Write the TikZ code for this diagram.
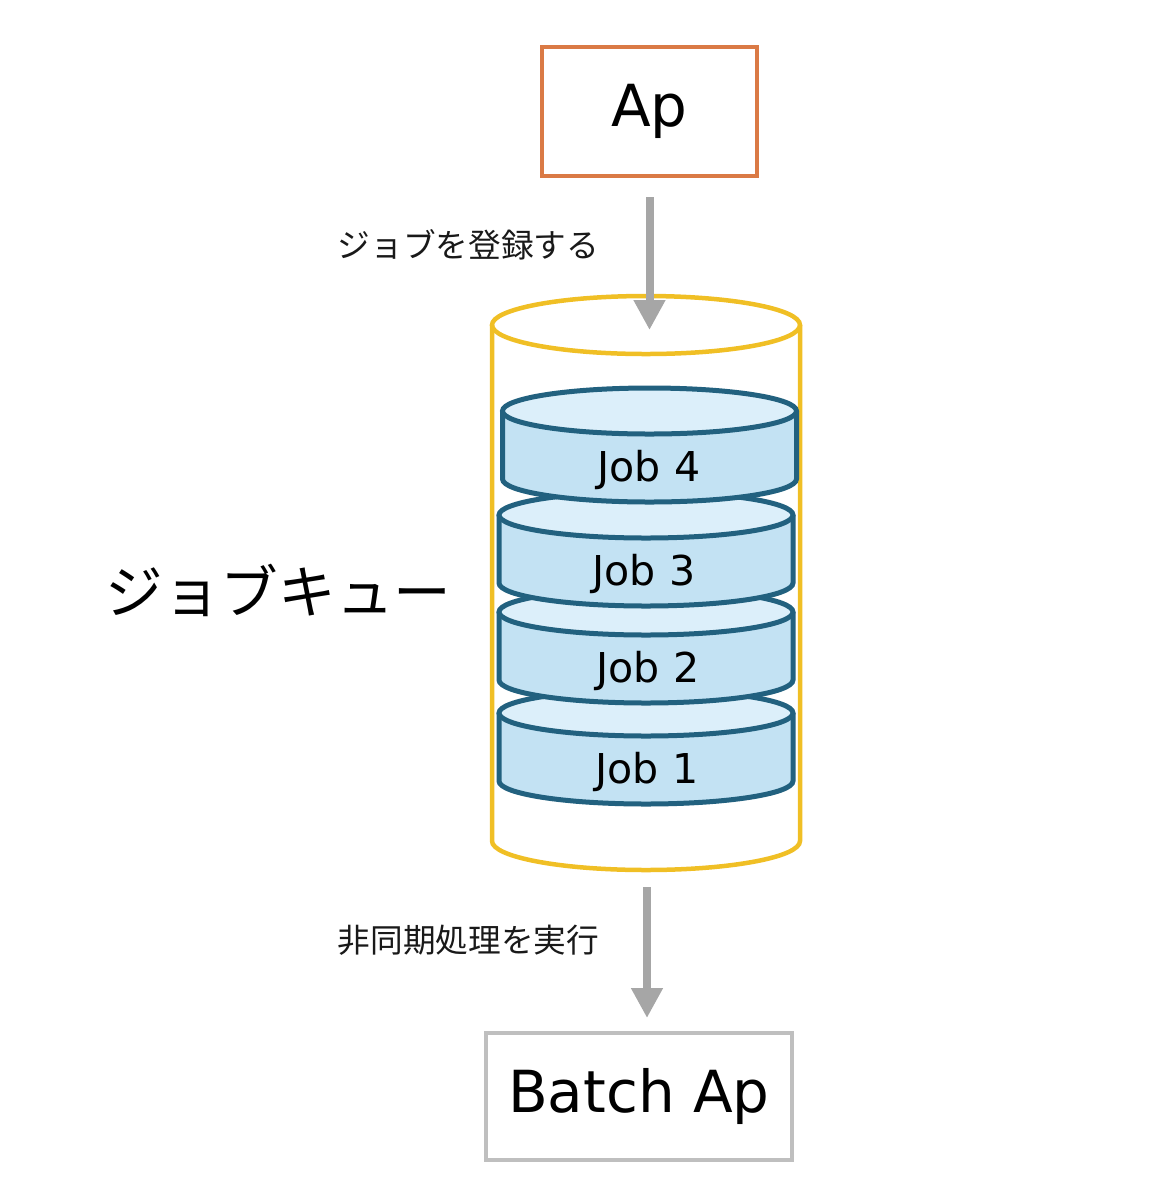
\documentclass[tikz,border=0pt]{standalone}
\usepackage{fontspec}
\setmainfont{DejaVu Sans}
\newfontfamily\jfont{Noto Sans CJK JP}
\usetikzlibrary{arrows.meta}
\definecolor{apcol}{HTML}{DA7A45}
\definecolor{queuecol}{HTML}{F0BF25}
\definecolor{jobline}{HTML}{22617F}
\definecolor{jobtop}{HTML}{DCEFFA}
\definecolor{jobside}{HTML}{C3E2F3}
\definecolor{flechecol}{HTML}{A6A6A6}
\definecolor{batchcol}{HTML}{BFBFBF}
\begin{document}
\begin{tikzpicture}
  \tikzstyle{boite}=[draw, line width=0.04cm, inner sep=0pt,
  font=\fontsize{16.5}{20}\selectfont]
  \tikzstyle{fleche}=[-{Triangle[width=0.3cm,length=0.3cm]}, draw=flechecol,
  fill=flechecol, line width=0.08cm]
  \tikzstyle{etiquette}=[anchor=east, inner sep=0pt, text=black!90,
  font=\jfont\fontsize{9.3}{11}\selectfont]
  \tikzstyle{cuve}=[draw=queuecol, line width=0.045cm]
  \tikzstyle{disque}=[draw=jobline, line width=0.05cm]
  \useasboundingbox (0,0) rectangle (11.67,-12);
  \node[boite, draw=apcol, minimum width=2.15cm, minimum height=1.29cm] (ap) at (6.495,-1.115) {Ap};
  \node[boite, draw=batchcol, minimum width=3.06cm, minimum height=1.27cm] (batch) at (6.39,-10.965) {Batch Ap};
  \draw[cuve] (4.92,-3.25) -- (4.92,-8.41) arc (180:360:1.54 and 0.29) -- (8.00,-3.25);
  \draw[cuve] (6.46,-3.25) ellipse (1.54 and 0.29);
  \foreach \n/\x/\y/\t in {1/6.46/7.13/6.47,2/6.46/6.12/6.48,3/6.46/5.15/6.44,4/6.495/4.11/6.49} {
    \draw[disque, fill=jobside] (\x-1.47,-\y) -- (\x-1.47,-\y-0.68)
      arc (180:360:1.47 and 0.23) -- (\x+1.47,-\y);
    \draw[disque, fill=jobtop] (\x,-\y) ellipse (1.47 and 0.23);
    \node[font=\fontsize{11.7}{14}\selectfont] (job\n) at (\t,-\y-0.585) {Job \n};
  }
  \node[anchor=east, inner sep=0pt, font=\jfont\fontsize{16.4}{20}\selectfont] (queue) at (4.52,-5.90) {ジョブキュー};
  \coordinate (qin) at (6.495,-3.30);
  \coordinate (qout) at (6.47,-8.87);
  \draw[fleche, shorten <=0.19cm] (ap) -- (qin);
  \draw[fleche, shorten >=0.13cm] (qout) -- (qout |- batch.north);
  \node[etiquette] (touroku) at (6.00,-2.45) {ジョブを登録する};
  \node[etiquette] (jikko) at (6.00,-9.40) {非同期処理を実行};
\end{tikzpicture}
\end{document}
